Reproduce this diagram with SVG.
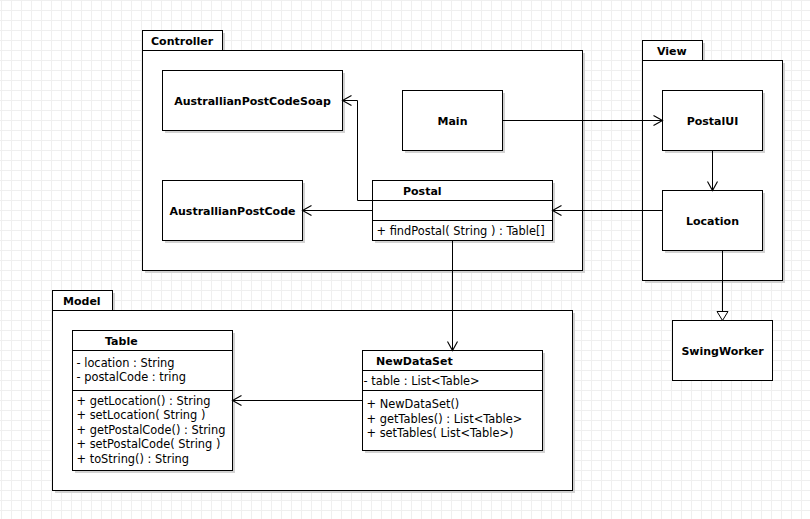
<svg xmlns="http://www.w3.org/2000/svg" width="810" height="519" viewBox="0 0 810 519">
  <defs>
    <pattern id="grid" patternUnits="userSpaceOnUse" x="1" y="0" width="10" height="10">
      <path d="M0.5,0 V10 M0,0.5 H10" fill="none" stroke="#efefef" stroke-width="1"/>
    </pattern>
    <marker id="open" markerUnits="userSpaceOnUse" viewBox="-1 -7 12 14" refX="9" refY="0" markerWidth="12" markerHeight="14" orient="auto" overflow="visible">
      <path d="M0,-5 L9,0 L0,5" fill="none" stroke="#000" stroke-width="1.1"/>
    </marker>
    <marker id="tri" markerUnits="userSpaceOnUse" viewBox="-1 -7 12 14" refX="9" refY="0" markerWidth="12" markerHeight="14" orient="auto" overflow="visible">
      <path d="M0,-5.5 L9,0 L0,5.5 Z" fill="#fff" stroke="#000" stroke-width="1"/>
    </marker>
    <style>
      .box { fill: #fff; stroke: #000; stroke-width: 1; }
      .sh { fill: #d2d2d2; }
      .ln { fill: none; stroke: #000; stroke-width: 1; }
      .name { font-family: "DejaVu Sans", Verdana, sans-serif; font-weight: bold; font-size: 11px; fill: #000; }
      .mid { text-anchor: middle; }
      .mem { font-family: "DejaVu Sans", Verdana, sans-serif; font-size: 11.4px; fill: #000; }
    </style>
  </defs>

  <rect width="810" height="519" fill="#fff"/>
  <rect width="810" height="519" fill="url(#grid)"/>

  <!-- Controller package -->
  <g id="pkg-controller">
    <rect class="sh" x="145" y="33" width="80" height="20"/>
    <rect class="sh" x="145" y="53" width="440" height="220"/>
    <rect class="box" x="142.5" y="30.5" width="80" height="20"/>
    <rect class="box" x="142.5" y="50.5" width="440" height="220"/>
    <text class="name" x="151" y="45">Controller</text>
  </g>

  <!-- View package -->
  <g id="pkg-view">
    <rect class="sh" x="645" y="43" width="60" height="20"/>
    <rect class="sh" x="645" y="63" width="140" height="220"/>
    <rect class="box" x="642.5" y="40.5" width="60" height="20"/>
    <rect class="box" x="642.5" y="60.5" width="140" height="220"/>
    <text class="name" x="657" y="55">View</text>
  </g>

  <!-- Model package -->
  <g id="pkg-model">
    <rect class="sh" x="55" y="293" width="60" height="20"/>
    <rect class="sh" x="55" y="313" width="520" height="180"/>
    <rect class="box" x="52.5" y="290.5" width="60" height="20"/>
    <rect class="box" x="52.5" y="310.5" width="520" height="180"/>
    <text class="name" x="63" y="305">Model</text>
  </g>

  <g id="AustrallianPostCodeSoap">
    <rect class="sh" x="165" y="73" width="180" height="60"/>
    <rect class="box" x="162.5" y="70.5" width="180" height="60"/>
    <text class="name mid" x="252.5" y="105">AustrallianPostCodeSoap</text>
  </g>

  <g id="Main">
    <rect class="sh" x="405" y="93" width="100" height="60"/>
    <rect class="box" x="402.5" y="90.5" width="100" height="60"/>
    <text class="name mid" x="452.5" y="125">Main</text>
  </g>

  <g id="AustrallianPostCode">
    <rect class="sh" x="165" y="183" width="140" height="60"/>
    <rect class="box" x="162.5" y="180.5" width="140" height="60"/>
    <text class="name mid" x="232.5" y="215">AustrallianPostCode</text>
  </g>

  <g id="Postal">
    <rect class="sh" x="375" y="183" width="180" height="60"/>
    <rect class="box" x="372.5" y="180.5" width="180" height="60"/>
    <path class="ln" d="M372.5,200.5 H552.5 M372.5,220.5 H552.5"/>
    <text class="name" x="403" y="194.5">Postal</text>
    <text class="mem" x="376.5" y="234.5">+ findPostal( String ) : Table[]</text>
  </g>

  <g id="PostalUI">
    <rect class="sh" x="665" y="93" width="100" height="60"/>
    <rect class="box" x="662.5" y="90.5" width="100" height="60"/>
    <text class="name mid" x="712.5" y="125">PostalUI</text>
  </g>

  <g id="Location">
    <rect class="sh" x="665" y="193" width="100" height="60"/>
    <rect class="box" x="662.5" y="190.5" width="100" height="60"/>
    <text class="name mid" x="712.5" y="225">Location</text>
  </g>

  <g id="SwingWorker">
    <rect class="box" x="672.5" y="320.5" width="100" height="60"/>
    <text class="name mid" x="722.5" y="354.5">SwingWorker</text>
  </g>

  <g id="Table">
    <rect class="sh" x="75" y="333" width="160" height="140"/>
    <rect class="box" x="72.5" y="330.5" width="160" height="140"/>
    <path class="ln" d="M72.5,350.5 H232.5 M72.5,390.5 H232.5"/>
    <text class="name" x="105" y="345">Table</text>
    <text class="mem" x="76.5" y="366.5">- location : String</text>
    <text class="mem" x="76.5" y="381">- postalCode : tring</text>
    <text class="mem" x="76.5" y="404.5">+ getLocation() : String</text>
    <text class="mem" x="76.5" y="419">+ setLocation( String )</text>
    <text class="mem" x="76.5" y="433.5">+ getPostalCode() : String</text>
    <text class="mem" x="76.5" y="448">+ setPostalCode( String )</text>
    <text class="mem" x="76.5" y="462.5">+ toString() : String</text>
  </g>

  <g id="NewDataSet">
    <rect class="sh" x="365" y="353" width="180" height="100"/>
    <rect class="box" x="362.5" y="350.5" width="180" height="100"/>
    <path class="ln" d="M362.5,370.5 H542.5 M362.5,390.5 H542.5"/>
    <text class="name" x="376" y="364.5">NewDataSet</text>
    <text class="mem" x="363.5" y="384.5">- table : List&lt;Table&gt;</text>
    <text class="mem" x="366.5" y="408">+ NewDataSet()</text>
    <text class="mem" x="366.5" y="422.5">+ getTables() : List&lt;Table&gt;</text>
    <text class="mem" x="366.5" y="437">+ setTables( List&lt;Table&gt;)</text>
  </g>

  <!-- connectors -->
  <g id="connectors">
    <path class="ln" d="M372.5,200.5 H357.5 V100.5 H342.5" marker-end="url(#open)"/>
    <path class="ln" d="M372.5,210.5 H302.5" marker-end="url(#open)"/>
    <path class="ln" d="M662.5,210.5 H552.5" marker-end="url(#open)"/>
    <path class="ln" d="M502.5,120.5 H662.5" marker-end="url(#open)"/>
    <path class="ln" d="M712.5,150.5 V190.5" marker-end="url(#open)"/>
    <path class="ln" d="M452.5,240.5 V350.5" marker-end="url(#open)"/>
    <path class="ln" d="M362.5,400.5 H232.5" marker-end="url(#open)"/>
    <path class="ln" d="M722.5,250.5 V320.5" marker-end="url(#tri)"/>
  </g>
</svg>
